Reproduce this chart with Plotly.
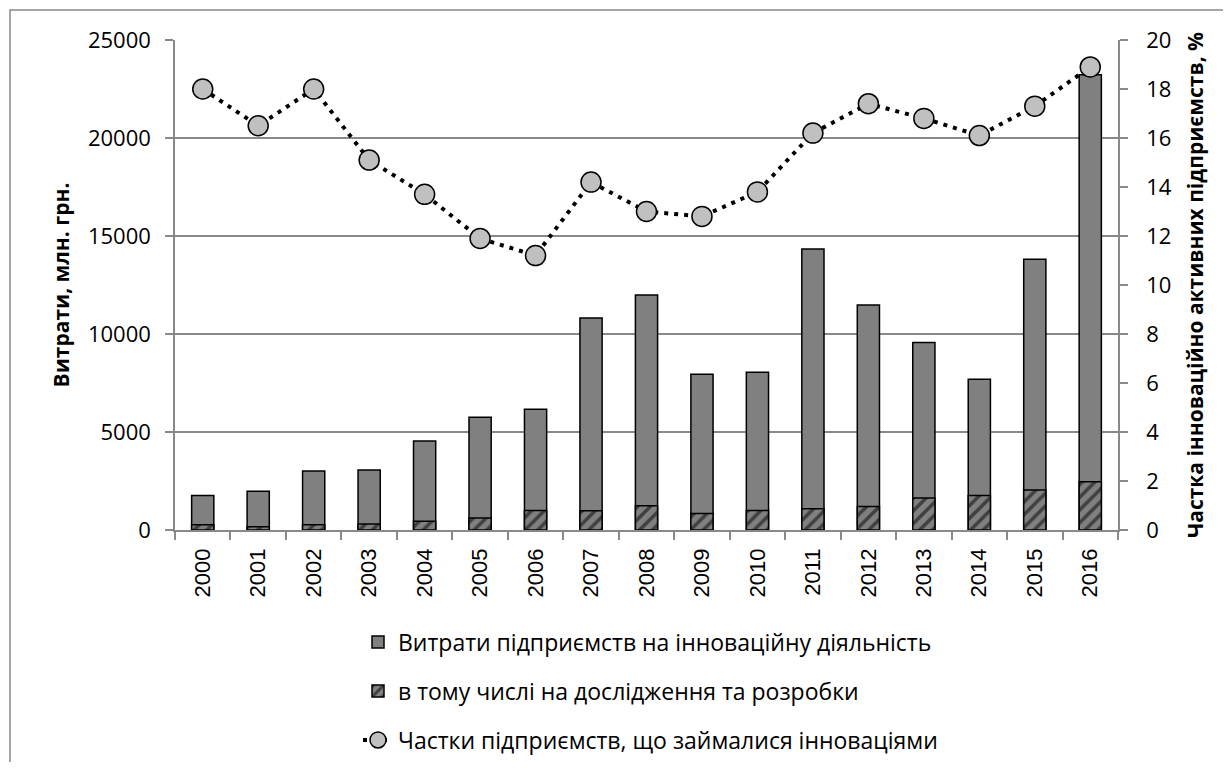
import plotly.graph_objects as go

years = [str(y) for y in range(2000, 2017)]
total_costs = [1760.1, 1979.4, 3013.8, 3059.8, 4534.6, 5751.6, 6160.0, 10821.0, 11994.2,
               7949.9, 8045.5, 14333.9, 11480.6, 9562.6, 7695.9, 13813.7, 23229.5]
rnd_costs = [266.2, 171.3, 270.4, 312.2, 445.3, 612.3, 992.9, 986.5, 1243.6,
             846.7, 996.4, 1079.9, 1196.3, 1638.5, 1754.9, 2039.3, 2457.2]
share_pct = [18.0, 16.5, 18.0, 15.1, 13.7, 11.9, 11.2, 14.2, 13.0,
             12.8, 13.8, 16.2, 17.4, 16.8, 16.1, 17.3, 18.9]

name_total = "Витрати підприємств на інноваційну діяльність"
name_rnd = "в тому числі на дослідження та розробки"
name_share = "Частки підприємств, що займалися інноваціями"

FONT = "Open Sans"
GRID = "#898989"

# page body has an 8px default margin: compensate so the plot lands in place
OFF = 8
FW, FH = 1231 - OFF, 770 - 2 * OFF
PL, PR, PT, PB = 175, 1118, 40, 530          # plot area in page pixels
L, T = PL - OFF, PT - OFF
R = FW - (PR - OFF)
B = FH - (PB - OFF)
W, H = PR - PL, PB - PT

fig = go.Figure()
fig.add_trace(go.Bar(
    x=years, y=total_costs, name=name_total, width=0.4,
    marker=dict(color="#808080", line=dict(color="black", width=1.5)),
    legend="legend"))
fig.add_trace(go.Bar(
    x=years, y=rnd_costs, name=name_rnd, width=0.4,
    marker=dict(color="#808080", line=dict(color="black", width=1.5),
                pattern=dict(shape="/", fgcolor="black", bgcolor="#808080",
                             size=9, solidity=0.4)),
    legend="legend2"))
fig.add_trace(go.Scatter(
    x=years, y=share_pct, name=name_share, yaxis="y2", mode="lines+markers",
    line=dict(color="black", width=4, dash="4px,6px"),
    marker=dict(symbol="circle", size=20, color="#C0C0C0",
                line=dict(color="black", width=1.5)),
    legend="legend3"))


def leg(row_y):
    return dict(orientation="v", x=(358 - PL) / W, xanchor="left",
                y=(PB - row_y) / H, yanchor="middle",
                font=dict(size=23), bgcolor="rgba(0,0,0,0)")


fig.update_layout(
    width=FW, height=FH,
    margin=dict(l=L, r=R, t=T, b=B, autoexpand=False),
    paper_bgcolor="white", plot_bgcolor="white",
    barmode="overlay",
    font=dict(family=FONT, size=21, color="black"),
    xaxis=dict(type="category", range=[-0.5, len(years) - 0.5],
               tickangle=-90, tickson="boundaries",
               ticks="outside", ticklen=8, tickcolor=GRID, tickwidth=1.5,
               showline=True, linecolor=GRID, linewidth=1.5, showgrid=False,
               automargin=False, ticklabelstandoff=8,
               tickfont=dict(family="Liberation Sans", size=22)),
    yaxis=dict(range=[0, 25000], dtick=5000, tickformat="d", ticks="outside",
               ticklen=8, tickcolor=GRID, tickwidth=1.5, showline=True,
               linecolor=GRID, linewidth=1.5, showgrid=True, gridcolor=GRID,
               gridwidth=1.5, zeroline=False, tickfont=dict(size=22),
               ticklabelstandoff=10, automargin=False,
               title=dict(text="<b>Витрати, млн. грн.</b>", font=dict(size=21),
                          standoff=13)),
    yaxis2=dict(range=[0, 20], dtick=2, overlaying="y", side="right",
                ticks="outside", ticklen=8, tickcolor=GRID, tickwidth=1.5,
                showline=True, linecolor=GRID, linewidth=1.5, showgrid=False,
                zeroline=False, tickfont=dict(size=22), ticklabelstandoff=14,
                automargin=False,
                title=dict(text="<b>Частка інноваційно активних підприємств, %</b>",
                           font=dict(size=21), standoff=18)),
    legend=leg(642),
    legend2=leg(691),
    legend3=leg(740),
    shapes=[dict(type="rect", xref="paper", yref="paper",
                 x0=(10 - PL) / W, x1=(1260 - PL) / W,
                 y0=(PB - 10) / H, y1=(PB - 800) / H,
                 line=dict(color=GRID, width=1.5), layer="below")],
    showlegend=True,
)

fig.write_html("out.html")
